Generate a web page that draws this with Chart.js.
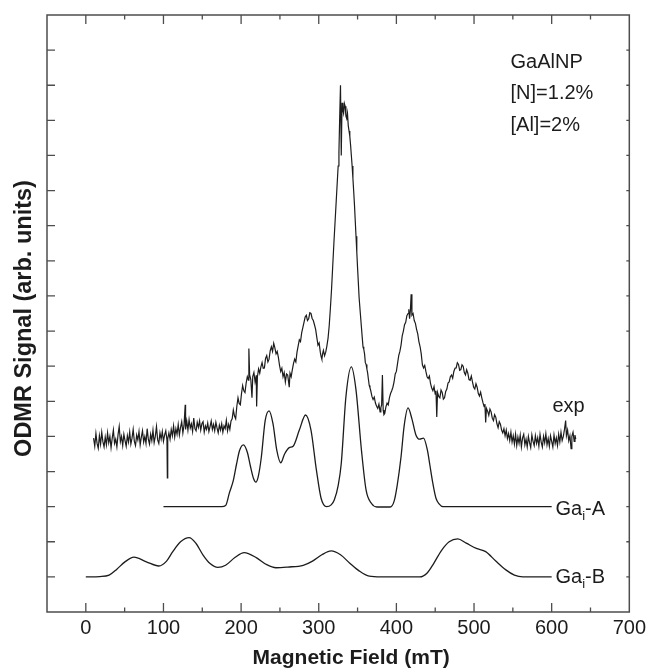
<!DOCTYPE html>
<html>
<head>
<meta charset="utf-8">
<script src="https://cdn.jsdelivr.net/npm/chart.js@4.4.1/dist/chart.umd.min.js"></script>
<style>
  html, body { margin: 0; padding: 0; background: #fff; }
</style>
</head>
<body>
<canvas id="odmr" width="650" height="669"></canvas>
<script>
// measured ODMR trace, [field mT, signal]
const expSignal = [
  [10,4.95],[11.5,4.72],[13,5.08],[14.5,4.80],[16,4.66],[17.5,5.02],[19,4.78],[20.5,5.12],[22,4.85],[23.5,4.70],
  [25,4.98],[26.5,4.76],[28,5.10],[29.5,4.82],[31,5.00],[32.5,4.68],[34,4.95],[35.5,5.18],[37,4.80],[38.5,4.92],
  [40,4.70],[41.5,5.05],[43,5.28],[44.5,4.85],[46,5.00],[47.5,4.74],[49,5.06],[50.5,4.88],[52,4.72],[53.5,5.02],
  [55,4.84],[56.5,5.12],[58,4.78],[59.5,4.95],[61,5.20],[62.5,4.86],[64,4.74],[65.5,5.04],[67,4.90],[68.5,5.14],
  [70,4.76],[71.5,4.98],[73,5.16],[74.5,4.84],[76,5.00],[77.5,4.80],[79,5.22],[80.5,4.92],[82,4.78],[83.5,5.06],
  [85,4.88],[86.5,5.18],[88,4.82],[89.5,5.00],[91,5.28],[92.5,4.90],[94,4.80],[95.5,5.10],[97,4.92],[98.5,5.14],
  [100,4.86],[101.5,5.04],[103,5.16],[104.5,4.90],[105,3.82],[105.5,4.94],[107,5.10],[108.5,4.92],[110,5.20],[111.5,5.02],
  [113,5.30],[114.5,4.98],[116,5.22],[117.5,5.06],[119,5.34],[120.5,5.04],[122,5.26],[123.5,5.42],[125,5.10],[126.5,5.32],
  [128,5.90],[128.5,5.20],[130,5.44],[131.5,5.18],[133,5.48],[134.5,5.24],[136,5.36],[137.5,5.14],[139,5.52],[140.5,5.22],
  [142,5.16],[143.5,5.40],[145,5.26],[146.5,5.44],[148,5.18],[149.5,5.36],[151,5.42],[152.5,5.12],[154,5.30],[155.5,5.20],
  [157,5.38],[158.5,5.14],[160,5.28],[161.5,5.44],[163,5.20],[164.5,5.34],[166,5.16],[167.5,5.40],[169,5.24],[170.5,5.10],
  [172,5.32],[173.5,5.18],[175,5.36],[176.5,5.12],[178,5.30],[179.5,5.22],[181,5.46],[182.5,5.16],[184,5.34],[185.5,5.20],
  [187,5.44],[188.5,5.50],[190,5.75],[191.5,5.58],[193,5.50],[194.5,5.86],[196,6.10],[197.5,5.94],[199,5.90],[200.5,6.22],
  [202,6.45],[203.5,6.30],[205,6.25],[206.5,6.52],[208,6.70],[209.5,6.60],[210,7.50],[211,6.75],[212.5,6.62],[214,6.10],
  [215,6.70],[216.5,6.82],[218,6.55],[219.5,6.74],[220,5.85],[221,6.70],[222.5,6.92],[224,6.80],[225.5,6.98],[227,7.10],
  [228.5,6.94],[230,6.95],[231.5,7.22],[233,7.30],[234.5,7.12],[236,7.20],[237.5,7.44],[239,7.55],[240.5,7.42],[242,7.65],
  [243.5,7.52],[245,7.35],[246.5,7.42],[248,7.25],[249.5,7.02],[251,6.85],[252.5,6.94],[254,6.70],[255.5,6.82],[257,6.55],
  [258.5,6.78],[260,6.75],[261,6.58],[262,6.40],[263,6.80],[264.5,6.70],[266,6.90],[267.5,7.08],[269,7.20],[270.5,7.12],
  [272,7.40],[273.5,7.58],[275,7.75],[276.5,7.70],[278,7.95],[279.5,8.10],[281,8.25],[282.5,8.40],[284,8.45],[285.5,8.30],
  [287,8.35],[288.5,8.52],[290,8.50],[291.5,8.36],[293,8.30],[294.5,8.18],[296,8.05],[297.5,7.82],[299,7.60],[300.5,7.66],
  [302,7.40],[303,7.28],[304,7.20],[305,7.36],[306,7.45],[307.5,7.30],[309,7.40],[310.5,7.58],[312,7.80],[313.5,8.16],
  [315,8.65],[316.5,9.20],[318,9.85],[319.5,10.50],[321,11.10],[322.5,11.70],[324,12.30],[325,12.70],[326,13.10],[327,14.10],
  [328,15.00],[329,13.00],[330,14.50],[331,14.30],[332,14.20],[333,14.48],[334,14.40],[335,14.12],[336,14.05],[337,14.20],
  [338,13.85],[339,13.70],[340,13.55],[341,13.30],[342,13.00],[343,12.70],[344,12.35],[345,11.98],[346,11.60],[347,11.15],
  [348,10.70],[349,10.25],[350,9.80],[351,9.38],[352,8.95],[353.5,8.52],[355,8.10],[356,7.82],[357,7.55],[358,7.48],
  [359,7.35],[360,7.10],[361,7.05],[362,6.92],[363,6.80],[364,6.62],[365,6.45],[366,6.38],[367,6.30],[368.5,6.14],
  [370,6.05],[371.5,6.12],[373,5.95],[374.5,5.86],[376,5.80],[377.5,5.92],[379,5.70],[380,5.82],[381,5.90],[382,6.75],
  [383,5.75],[384,5.62],[385,5.65],[386.5,5.84],[388,5.95],[389.5,5.90],[391,6.10],[392.5,6.22],[394,6.30],[395.5,6.40],
  [397,6.55],[398.5,6.78],[400,6.85],[401.5,7.08],[403,7.30],[404.5,7.42],[406,7.60],[407.5,7.86],[409,8.00],[410.5,8.18],
  [412,8.25],[413.5,8.44],[415,8.50],[416,8.62],[417,8.35],[418,8.58],[419,9.05],[420,8.45],[421.5,8.50],[423,8.30],
  [424.5,8.22],[426,8.05],[427.5,7.92],[429,7.70],[430.5,7.56],[432,7.35],[433.5,7.04],[435,6.95],[436.5,7.02],[438,6.85],
  [439.5,6.70],[441,6.65],[442.5,6.72],[444,6.50],[445.5,6.38],[447,6.30],[448.5,6.42],[450,6.20],[451,6.30],[452,5.55],
  [453,6.25],[454.5,6.14],[456,6.10],[457.5,6.32],[459,6.25],[460.5,6.06],[462,6.10],[463.5,6.28],[465,6.35],[466.5,6.52],
  [468,6.55],[469.5,6.70],[471,6.75],[472.5,6.66],[474,6.85],[475.5,6.94],[477,6.95],[478.5,7.10],[480,7.05],[481.5,6.88],
  [483,6.90],[484.5,7.04],[486,7.00],[487.5,6.82],[489,6.75],[490.5,6.90],[492,6.80],[493.5,6.62],[495,6.60],[496.5,6.72],
  [498,6.55],[499.5,6.40],[501,6.35],[502.5,6.50],[504,6.40],[505.5,6.22],[507,6.15],[508.5,6.26],[510,6.10],[511.5,5.96],
  [513,5.85],[514,5.92],[515,5.40],[516,5.80],[517.5,5.72],[519,5.60],[520.5,5.78],[522,5.70],[523.5,5.52],[525,5.45],
  [526.5,5.62],[528,5.55],[529.5,5.36],[531,5.25],[532.5,5.42],[534,5.35],[535.5,5.18],[537,5.10],[538.5,5.22],[540,5.02],
  [541.5,5.18],[543,4.94],[544.5,5.08],[546,4.88],[547.5,5.12],[549,4.84],[550.5,5.02],[552,4.78],[553.5,5.06],[555,4.74],
  [556.5,4.98],[558,4.80],[559.5,5.04],[561,4.70],[562.5,4.96],[564,5.06],[565.5,4.76],[567,4.92],[568.5,4.70],[570,5.00],
  [571.5,4.82],[573,4.68],[574.5,5.04],[576,4.86],[577.5,4.74],[579,5.02],[580.5,4.80],[582,4.96],[583.5,4.72],[585,5.06],
  [586.5,4.84],[588,4.70],[589.5,5.00],[591,4.82],[592.5,5.08],[594,4.76],[595.5,4.94],[597,4.72],[598.5,5.02],[600,4.86],
  [601.5,4.70],[603,5.04],[604.5,4.80],[606,4.96],[607.5,4.74],[609,5.06],[610.5,4.84],[612,5.12],[613.5,4.88],[615,5.00],
  [616.5,5.20],[618,5.45],[619,5.02],[620.5,5.18],[622,4.88],[623.5,5.02],[625,4.65],[626,5.00],[627.5,5.12],[629,4.86],
  [630,5.04],[631,4.92]
];

// simulated spectrum Ga_i-A
const gaiA = [
  [100,3.0],[175,3.0],[180,3.03],[185,3.4],[190,3.75],[194,4.2],[198,4.6],[203,4.76],[208,4.55],[212,4.15],
  [216,3.8],[219,3.7],[222,3.85],[226,4.4],[231,5.45],[236,5.73],[241,5.37],[246,4.6],[251,4.25],[256,4.5],
  [262,4.68],[267,4.72],[275,5.18],[283,5.61],[290,5.18],[297,4.04],[303,3.24],[310,3.0],[316,3.05],[320,3.19],
  [325,3.6],[329,4.23],[335,6.13],[342,6.98],[348,6.32],[355,4.61],[361,3.47],[368,3.09],[375,2.99],[392,2.99],
  [397,3.15],[401,3.6],[406,4.42],[410,5.3],[415,5.81],[420,5.5],[425,5.05],[430,4.92],[435,4.95],[440,4.6],
  [443,4.2],[447,3.66],[451,3.24],[455,3.08],[460,3.0],[600,3.0]
];

// simulated spectrum Ga_i-B
const gaiB = [
  [0,1.0],[18,1.01],[30,1.05],[40,1.22],[50,1.42],[62,1.56],[78,1.43],[94,1.31],[104,1.45],[112,1.72],
  [122,2.0],[133,2.12],[142,1.95],[151,1.62],[160,1.38],[170,1.27],[180,1.33],[192,1.55],[204,1.69],[220,1.54],
  [232,1.36],[245,1.26],[260,1.28],[280,1.33],[292,1.45],[304,1.63],[316,1.74],[328,1.63],[340,1.39],[352,1.17],
  [365,1.02],[380,1.0],[430,1.0],[440,1.12],[448,1.38],[458,1.75],[468,2.0],[479,2.08],[490,1.96],[503,1.81],
  [515,1.72],[528,1.45],[541,1.2],[552,1.05],[563,1.0],[600,1.0]
];

const sampleInfo = ['GaAlNP', '[N]=1.2%', '[Al]=2%'];
const infoY = [15.49, 14.61, 13.71];

const FONT = "'Liberation Sans', Arial, Helvetica, sans-serif";
const INK = '#1c1c1c';

function toXY(arr) {
  return arr.map(p => ({ x: p[0], y: p[1] }));
}

// Draw "Ga" + subscript i + suffix
function labelGa(ctx, px, py, suffix) {
  ctx.font = '20px ' + FONT;
  ctx.fillText('Ga', px, py);
  let w = ctx.measureText('Ga').width;
  ctx.font = '13px ' + FONT;
  ctx.fillText('i', px + w, py + 5);
  w += ctx.measureText('i').width;
  ctx.font = '20px ' + FONT;
  ctx.fillText(suffix, px + w, py);
}

const frame = {
  id: 'frame',
  afterDatasetsDraw(chart) {
    const { ctx, chartArea: a, scales: { x, y } } = chart;
    ctx.save();
    ctx.strokeStyle = '#4d4d4d';
    ctx.lineWidth = 1.5;
    ctx.strokeRect(a.left, a.top, a.right - a.left, a.bottom - a.top);

    // inward ticks
    ctx.lineWidth = 1.3;
    ctx.beginPath();
    x.ticks.forEach(t => {
      if (t.value <= x.min || t.value >= x.max) return;
      const px = x.getPixelForValue(t.value);
      const len = t.value % 100 === 0 ? 9 : 4.5;
      ctx.moveTo(px, a.bottom); ctx.lineTo(px, a.bottom - len);
      ctx.moveTo(px, a.top); ctx.lineTo(px, a.top + len);
    });
    y.ticks.forEach(t => {
      if (t.value <= y.min || t.value >= y.max) return;
      const py = y.getPixelForValue(t.value);
      ctx.moveTo(a.left, py); ctx.lineTo(a.left + 8, py);
      ctx.moveTo(a.right, py); ctx.lineTo(a.right - 3, py);
    });
    ctx.stroke();

    // annotations
    ctx.fillStyle = INK;
    ctx.textBaseline = 'alphabetic';
    ctx.textAlign = 'left';
    ctx.font = '20px ' + FONT;
    sampleInfo.forEach((s, i) => {
      ctx.fillText(s, x.getPixelForValue(547), y.getPixelForValue(infoY[i]));
    });
    ctx.fillText('exp', x.getPixelForValue(601), y.getPixelForValue(5.70));
    labelGa(ctx, x.getPixelForValue(605), y.getPixelForValue(2.76), '-A');
    labelGa(ctx, x.getPixelForValue(605), y.getPixelForValue(0.82), '-B');

    // axis titles
    ctx.textAlign = 'center';
    ctx.textBaseline = 'middle';
    ctx.font = 'bold 21px ' + FONT;
    ctx.fillText('Magnetic Field (mT)', (a.left + a.right) / 2 + 13, 658);
    ctx.translate(25, (a.top + a.bottom) / 2 + 5);
    ctx.rotate(-Math.PI / 2);
    ctx.font = 'bold 23.5px ' + FONT;
    ctx.fillText('ODMR Signal (arb. units)', 0, 0);
    ctx.restore();
  }
};

const lineStyle = { borderColor: INK, borderWidth: 1.3, pointRadius: 0, fill: false };

new Chart(document.getElementById('odmr'), {
  type: 'line',
  data: {
    datasets: [
      Object.assign({ label: 'exp', data: toXY(expSignal), tension: 0, borderWidth: 1.2 }, { borderColor: INK, pointRadius: 0, fill: false }),
      Object.assign({ label: 'Ga_i-A', data: toXY(gaiA), cubicInterpolationMode: 'monotone' }, lineStyle),
      Object.assign({ label: 'Ga_i-B', data: toXY(gaiB), cubicInterpolationMode: 'monotone' }, lineStyle)
    ]
  },
  options: {
    responsive: false,
    animation: false,
    layout: { padding: { top: 15, right: 18, left: 0, bottom: 0 } },
    plugins: { legend: { display: false }, tooltip: { enabled: false } },
    scales: {
      x: {
        type: 'linear', min: -50, max: 700,
        grid: { display: false, drawTicks: false },
        border: { display: false },
        ticks: {
          stepSize: 50, autoSkip: false, maxRotation: 0, padding: 4,
          color: INK, font: { family: FONT, size: 20 },
          callback: v => (v % 100 === 0 && v >= 0) ? v : ''
        },
        afterFit(s) { s.height = 57; }
      },
      y: {
        min: 0, max: 17,
        grid: { display: false, drawTicks: false },
        border: { display: false },
        ticks: { stepSize: 1, display: false },
        afterFit(s) { s.width = 47; }
      }
    }
  },
  plugins: [frame]
});
</script>
</body>
</html>
